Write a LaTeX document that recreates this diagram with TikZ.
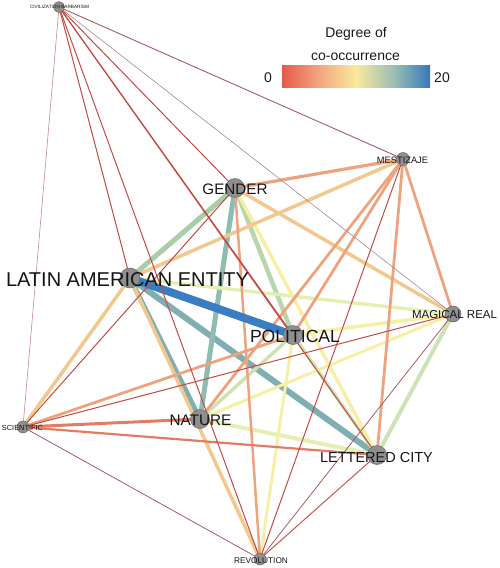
\documentclass[tikz,border=0pt]{standalone}
\usepackage{fontspec}
\setmainfont{Liberation Sans}
\definecolor{cbred}{HTML}{E65A4A}
\definecolor{cborange}{HTML}{F3A67E}
\definecolor{cbyellow}{HTML}{FAEA9C}
\definecolor{cbteal}{HTML}{9DBFB2}
\definecolor{cbblue}{HTML}{3579BD}
\definecolor{ebl}{HTML}{3A7DC0}
\definecolor{ete}{HTML}{7FAFB2}
\definecolor{ete2}{HTML}{8EBCB0}
\definecolor{egr1}{HTML}{A9CDA9}
\definecolor{egr2}{HTML}{B8D6AE}
\definecolor{egr3}{HTML}{CFE2B3}
\definecolor{eyg}{HTML}{E6EFB3}
\definecolor{eye}{HTML}{F7EFA6}
\definecolor{eta}{HTML}{F2C88E}
\definecolor{eor}{HTML}{EDA47E}
\definecolor{ero}{HTML}{E47B62}
\definecolor{ere}{HTML}{C44A42}
\definecolor{epu}{HTML}{A85A66}
\definecolor{egp}{HTML}{9E8A9E}
\definecolor{nodegray}{HTML}{8F8F8F}
\definecolor{nodeedge}{HTML}{6A6A6A}
\pgfdeclarehorizontalshading{cooc}{100bp}{color(0bp)=(cbred); color(25bp)=(cbred); color(37.5bp)=(cborange); color(50bp)=(cbyellow); color(62.5bp)=(cbteal); color(75bp)=(cbblue); color(100bp)=(cbblue)}
\tikzset{
  vtx/.style={circle, fill=nodegray, draw=nodeedge, line width=0.5pt, inner sep=0pt, minimum size=#1},
  lbl/.style={inner sep=0pt, text=black!92, font=\fontsize{#1}{#1}\selectfont},
  lnk/.style 2 args={draw=#1, line width=#2, line cap=butt},
  legtxt/.style={inner sep=0pt, text=black!90, font=\fontsize{14}{14}\selectfont}
}
\begin{document}
\begin{tikzpicture}[x=1pt, y=-1pt]
\useasboundingbox (0,0) rectangle (499,568);
% node positions
\coordinate (C) at (59,7);
\coordinate (M) at (403,159);
\coordinate (G) at (235,188);
\coordinate (L) at (130,278);
\coordinate (P) at (293,335);
\coordinate (MR) at (453,314);
\coordinate (N) at (200,419);
\coordinate (S) at (23,427);
\coordinate (LC) at (377,455);
\coordinate (R) at (260,559);
% thick / strong edges
\draw[lnk={ete}{6pt}] (L) -- (LC);
\draw[lnk={ete}{5pt}] (L) -- (N);
\draw[lnk={ete2}{5pt}] (G) -- (N);
\draw[lnk={egr1}{5pt}] (L) -- (G);
\draw[lnk={egr2}{4.5pt}] (G) -- (P);
\draw[lnk={egr3}{4pt}] (MR) -- (LC);
\draw[lnk={egr3}{3.5pt}] (P) -- (N);
\draw[lnk={egr3}{3.5pt}] (P) -- (LC);
\draw[lnk={eyg}{4pt}] (N) -- (LC);
\draw[lnk={eyg}{3.5pt}] (L) -- (MR);
\draw[lnk={eye}{3.5pt}] (G) -- (LC);
\draw[lnk={eye}{3.5pt}] (P) -- (MR);
\draw[lnk={eye}{3pt}] (P) -- (R);
\draw[lnk={eye}{3pt}] (N) -- (MR);
\draw[lnk={eta}{3.5pt}] (L) -- (M);
\draw[lnk={eta}{3.5pt}] (G) -- (MR);
\draw[lnk={eta}{3.5pt}] (L) -- (S);
\draw[lnk={eta}{3.5pt}] (L) -- (R);
\draw[lnk={eor}{3.2pt}] (G) -- (M);
\draw[lnk={eor}{2.8pt}] (M) -- (MR);
\draw[lnk={eor}{2.8pt}] (M) -- (LC);
\draw[lnk={eor}{2.8pt}] (M) -- (N);
\draw[lnk={eor}{2.8pt}] (M) -- (P);
\draw[lnk={eor}{2.5pt}] (G) -- (R);
\draw[lnk={eor}{2.8pt}] (S) -- (P);
\draw[lnk={ero}{3pt}] (S) -- (N);
\draw[lnk={ero}{2.2pt}] (S) -- (LC);
\draw[lnk={ebl}{8pt}] (L) -- (P);
% thin edges
\draw[lnk={ere}{1pt}] (C) -- (L);
\draw[lnk={ere}{1pt}] (C) -- (G);
\draw[lnk={ere}{1pt}] (C) -- (P);
\draw[lnk={ere}{1pt}] (C) -- (LC);
\draw[lnk={ere}{1pt}] (C) -- (R);
\draw[lnk={epu}{0.9pt}] (C) -- (M);
\draw[lnk={egp}{0.6pt}] (C) -- (MR);
\draw[lnk={epu!70}{0.6pt}] (C) -- (S);
\draw[lnk={ere}{1pt}] (G) -- (S);
\draw[lnk={ere}{1pt}] (S) -- (MR);
\draw[lnk={ere}{1pt}] (M) -- (R);
\draw[lnk={epu}{0.8pt}] (MR) -- (R);
\draw[lnk={ere}{0.9pt}] (LC) -- (R);
\draw[lnk={epu}{0.8pt}] (S) -- (R);
% vertices
\node[vtx=11pt] (nC) at (C) {};
\node[vtx=13pt] (nM) at (M) {};
\node[vtx=19pt] (nG) at (G) {};
\node[vtx=20pt] (nL) at (L) {};
\node[vtx=19pt] (nP) at (P) {};
\node[vtx=16pt] (nMR) at (MR) {};
\node[vtx=19pt] (nN) at (N) {};
\node[vtx=12pt] (nS) at (S) {};
\node[vtx=19pt] (nLC) at (LC) {};
\node[vtx=12pt] (nR) at (R) {};
% labels
\node[lbl=4.7] (tC) at (59.5,7) {CIVILIZATION BARBARISM};
\node[lbl=9.3] (tM) at (402.5,160) {MESTIZAJE};
\node[lbl=15.2] (tG) at (235,189) {GENDER};
\node[lbl=20] (tL) at (127.5,279.5) {LATIN AMERICAN ENTITY};
\node[lbl=17.6] (tP) at (295,336.5) {POLITICAL};
\node[lbl=11.5] (tMR) at (454.5,314.5) {MAGICAL REAL};
\node[lbl=15.3] (tN) at (200.5,420.5) {NATURE};
\node[lbl=7.4] (tS) at (22.5,428) {SCIENTIFIC};
\node[lbl=14.5] (tLC) at (376.5,458) {LETTERED CITY};
\node[lbl=8.3] (tR) at (261,561) {REVOLUTION};
% legend
\node[legtxt, anchor=base] (lg1) at (356,37) {Degree of};
\node[legtxt, anchor=base] (lg2) at (355.5,60.5) {co-occurrence};
\shade[shading=cooc] (282,65) rectangle (430,87);
\node[legtxt, anchor=center] (lg0) at (268,78) {0};
\node[legtxt, anchor=center] (lg20) at (442,78) {20};
\end{tikzpicture}
\end{document}
